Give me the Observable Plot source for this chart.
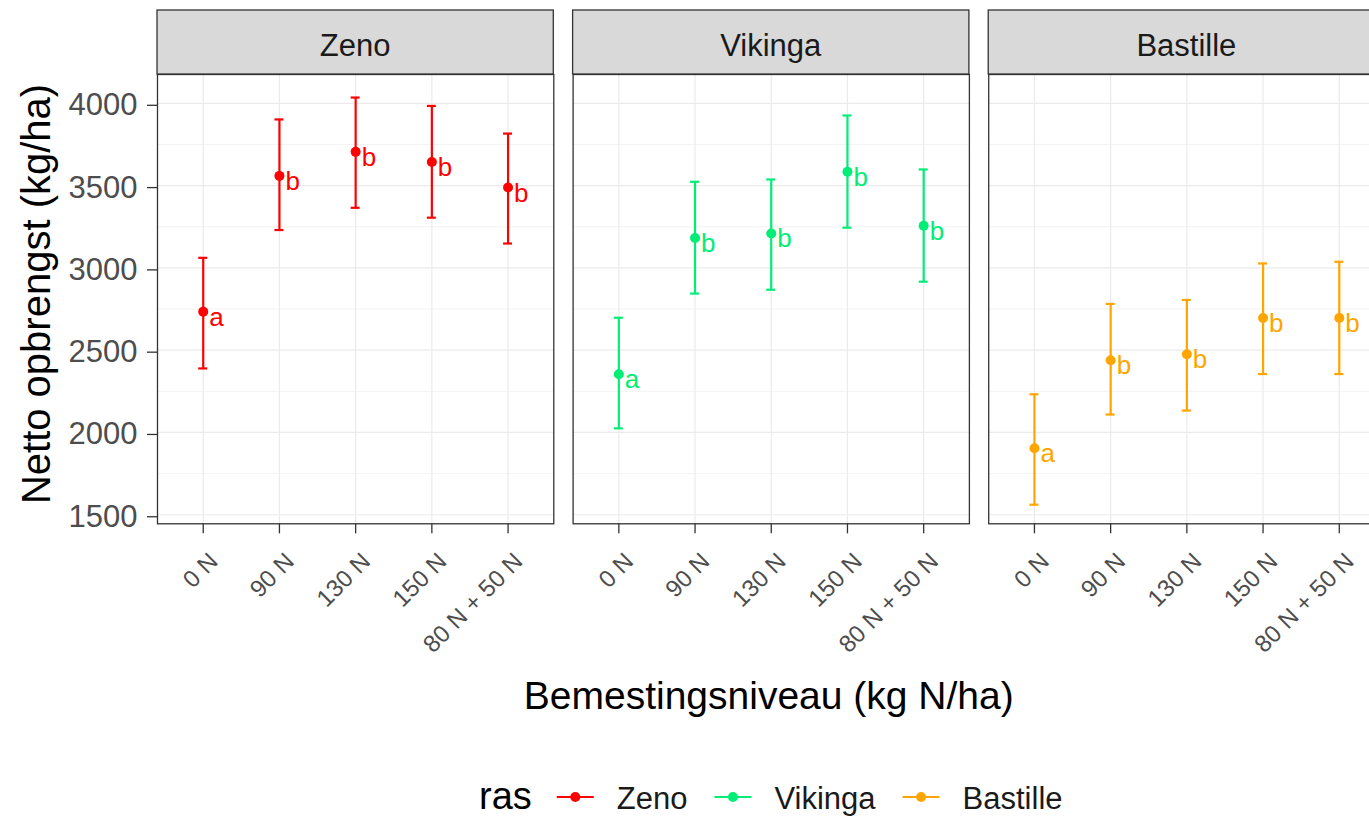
<!DOCTYPE html>
<html>
<head>
<meta charset="utf-8">
<script src="https://cdn.jsdelivr.net/npm/d3@7"></script>
<script src="https://cdn.jsdelivr.net/npm/@observablehq/plot@0.6"></script>
<style>
  html, body { margin: 0; padding: 0; background: #fff; overflow: hidden; }
  #wrap { position: relative; width: 1369px; height: 816px; overflow: hidden; }
  #chart svg { max-width: none !important; display: block; }
  #legend { position: absolute; left: 0; top: 770px; }
</style>
</head>
<body>
<div id="wrap">
  <div id="chart"></div>
  <svg id="legend" width="1369" height="46"></svg>
</div>
<script>
// ---- data ----
const levels = ["0 N", "90 N", "130 N", "150 N", "80 N + 50 N"];
const rassen = ["Zeno", "Vikinga", "Bastille"];
const kleuren = ["#FF0000", "#00EE76", "#FFA500"];

const zenoMean = [2734, 3559, 3705, 3643, 3488];
const zenoHi   = [3061, 3902, 4035, 3984, 3816];
const zenoLo   = [2389, 3230, 3365, 3305, 3148];
const zenoLetters = ["a", "b", "b", "b", "b"];

const vikingaMean = [2354, 3182, 3209, 3584, 3256];
const vikingaHi   = [2697, 3523, 3537, 3926, 3598];
const vikingaLo   = [2025, 2844, 2867, 3244, 2916];
const vikingaLetters = ["a", "b", "b", "b", "b"];

const bastilleMean = [1904, 2439, 2475, 2695, 2695];
const bastilleHi   = [2232, 2781, 2805, 3027, 3037];
const bastilleLo   = [1561, 2109, 2133, 2355, 2355];
const bastilleLetters = ["a", "b", "b", "b", "b"];

const yTicks = [1500, 2000, 2500, 3000, 3500, 4000];
const yMinor = [1750, 2250, 2750, 3250, 3750];
const yDomain = [1445, 4175];

const xTitle = "Bemestingsniveau (kg N/ha)";
const yTitle = "Netto opbrengst (kg/ha)";
const legendTitle = "ras";

// ---- table ----
const series = {
  Zeno: [zenoMean, zenoLo, zenoHi, zenoLetters],
  Vikinga: [vikingaMean, vikingaLo, vikingaHi, vikingaLetters],
  Bastille: [bastilleMean, bastilleLo, bastilleHi, bastilleLetters]
};
const rows = [];
for (const ras of rassen) {
  const [m, lo, hi, let_] = series[ras];
  levels.forEach((lv, i) => rows.push({ras, level: lv, mean: m[i], lo: lo[i], hi: hi[i], letter: let_[i]}));
}

const FONT = '"Liberation Sans", Arial, Helvetica, sans-serif';
const W = 1385, H = 740, panelBottom = 523.3;

const chart = Plot.plot({
  width: W,
  height: H,
  marginLeft: 157,
  marginRight: 0.5,
  marginTop: 74,
  marginBottom: H - panelBottom,
  style: {fontFamily: FONT, background: "white", overflow: "visible"},
  fx: {domain: rassen, paddingInner: 0.0465, paddingOuter: 0, round: false, axis: null, label: null},
  x: {type: "point", domain: levels, padding: 0.6, round: false, label: null},
  y: {domain: yDomain, label: null},
  color: {domain: rassen, range: kleuren},
  marks: [
    Plot.ruleY(yMinor, {stroke: "#EBEBEB", strokeWidth: 0.6}),
    Plot.ruleY(yTicks, {stroke: "#EBEBEB", strokeWidth: 1.2}),
    Plot.ruleX(levels, {stroke: "#EBEBEB", strokeWidth: 1.2}),
    Plot.ruleX(rows, {fx: "ras", x: "level", y1: "lo", y2: "hi", stroke: "ras", strokeWidth: 2.2}),
    Plot.ruleY(rows, {fx: "ras", x1: "level", x2: "level", y: "hi", stroke: "ras", strokeWidth: 2.2, insetLeft: -4.5, insetRight: -4.5}),
    Plot.ruleY(rows, {fx: "ras", x1: "level", x2: "level", y: "lo", stroke: "ras", strokeWidth: 2.2, insetLeft: -4.5, insetRight: -4.5}),
    Plot.dot(rows, {fx: "ras", x: "level", y: "mean", fill: "ras", r: 5}),
    Plot.text(rows, {fx: "ras", x: "level", y: "mean", text: "letter", fill: "ras",
      textAnchor: "start", lineAnchor: "bottom", dx: 6, dy: 14, fontSize: 26}),
    Plot.frame({stroke: "#333333", strokeWidth: 1.3}),
    Plot.axisY(yTicks, {tickSize: 10, tickPadding: 10, fontSize: 31, fill: "#4D4D4D",
      stroke: "#333333", strokeWidth: 1.3, label: null, dy: 2, tickFormat: d => String(d)}),
    Plot.axisX({tickSize: 10, tickFormat: () => "", stroke: "#333333", strokeWidth: 1.3, label: null}),
    Plot.text(levels, {x: d => d, frameAnchor: "bottom", rotate: -45, textAnchor: "end",
      lineAnchor: "top", dx: 4, dy: 27, fontSize: 24, fill: "#4D4D4D"})
  ]
});
document.getElementById("chart").appendChild(chart);

// ---- strips and titles ----
const svg = d3.select(chart);
const fx = chart.scale("fx");
const bw = fx.bandwidth;
rassen.forEach(r => {
  const x0 = fx.apply(r);
  svg.append("rect").attr("x", x0).attr("y", 10).attr("width", bw).attr("height", 64)
    .attr("fill", "#D9D9D9").attr("stroke", "#333333").attr("stroke-width", 1.3);
  svg.append("text").attr("x", x0 + bw / 2).attr("y", 56).attr("text-anchor", "middle")
    .attr("font-family", FONT).attr("font-size", 31).attr("fill", "#1A1A1A").text(r);
});
const plotLeft = fx.apply(rassen[0]);
const plotRight = fx.apply(rassen[rassen.length - 1]) + bw;
const centerX = (plotLeft + plotRight) / 2;
svg.append("text").attr("transform", `translate(50,294) rotate(-90)`)
  .attr("text-anchor", "middle").attr("font-family", FONT).attr("font-size", 40)
  .attr("fill", "#000").text(yTitle);
svg.append("text").attr("x", centerX - 2).attr("y", 709).attr("text-anchor", "middle")
  .attr("font-family", FONT).attr("font-size", 39).attr("fill", "#000").text(xTitle);

// ---- legend ----
const lg = d3.select("#legend");
const g = lg.append("g");
let cx = 0;
const t0 = g.append("text").attr("x", cx).attr("y", 39).attr("font-family", FONT)
  .attr("font-size", 38).attr("fill", "#000").text(legendTitle);
cx += t0.node().getComputedTextLength() + 25;
rassen.forEach((r, i) => {
  g.append("line").attr("x1", cx).attr("x2", cx + 37).attr("y1", 27).attr("y2", 27)
    .attr("stroke", kleuren[i]).attr("stroke-width", 2.2);
  g.append("circle").attr("cx", cx + 18.5).attr("cy", 27).attr("r", 5).attr("fill", kleuren[i]);
  cx += 37 + 23;
  const t = g.append("text").attr("x", cx).attr("y", 39).attr("font-family", FONT)
    .attr("font-size", 31).attr("fill", "#1A1A1A").text(r);
  cx += t.node().getComputedTextLength();
  if (i < rassen.length - 1) cx += 27;
});
g.attr("transform", `translate(${centerX - cx / 2},0)`);
</script>
</body>
</html>
